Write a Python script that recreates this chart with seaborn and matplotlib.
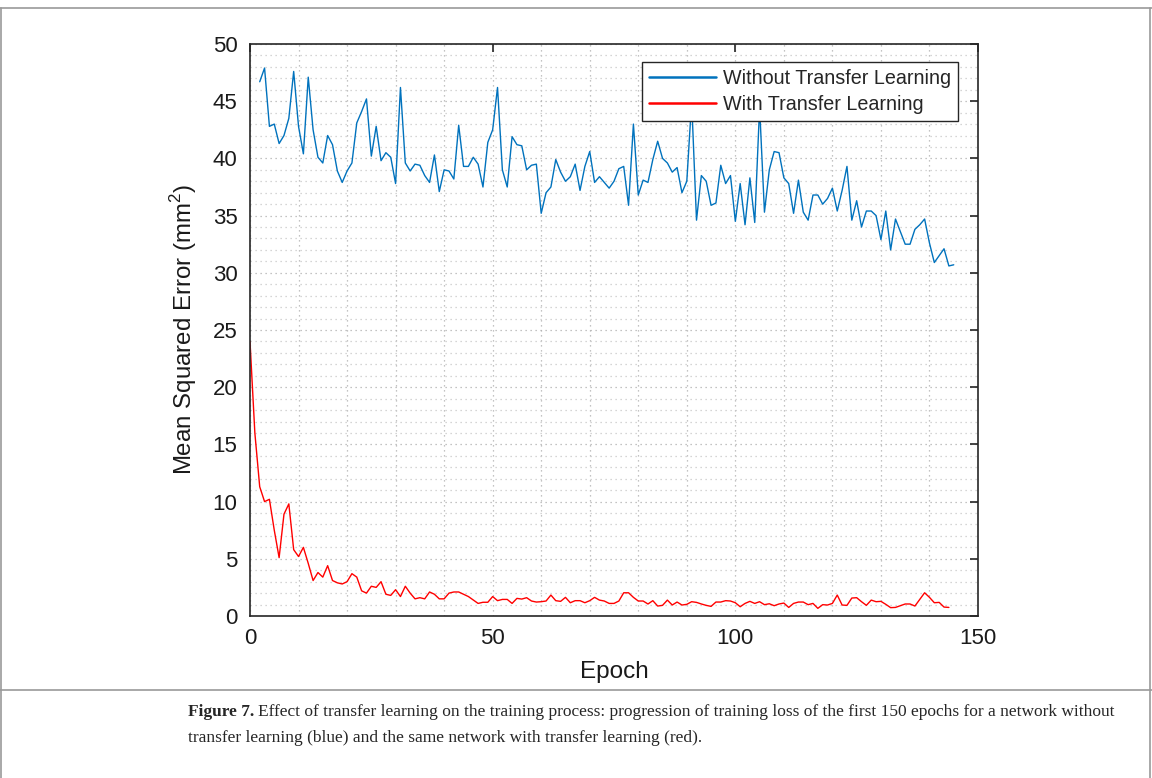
import numpy as np
import pandas as pd
import matplotlib
matplotlib.use("Agg")
import matplotlib.pyplot as plt
from matplotlib.ticker import MultipleLocator
from matplotlib.lines import Line2D
import seaborn as sns

# ---------------- data ----------------
without_tl = [46.7, 47.9, 42.8, 43.0, 41.3, 42.0, 43.5, 47.6, 42.8, 40.4,
              47.1, 42.5, 40.1, 39.6, 42.0, 41.2, 38.9, 37.9, 38.9, 39.6,
              43.1, 44.1, 45.2, 40.2, 42.8, 39.8, 40.5, 40.1, 37.8, 46.2,
              39.6, 38.9, 39.5, 39.4, 38.5, 37.9, 40.3, 37.1, 39.0, 38.9,
              38.2, 42.9, 39.3, 39.3, 40.1, 39.5, 37.5, 41.4, 42.5, 46.2,
              39.0, 37.5, 41.9, 41.2, 41.1, 39.0, 39.4, 39.5, 35.2, 37.0,
              37.5, 39.9, 38.8, 38.0, 38.4, 39.5, 37.2, 39.3, 40.6, 37.9,
              38.4, 37.9, 37.4, 38.0, 39.1, 39.3, 35.9, 43.0, 36.8, 38.1,
              37.9, 39.9, 41.5, 40.0, 39.6, 38.8, 39.2, 37.0, 38.0, 45.0,
              34.6, 38.5, 38.0, 35.9, 36.1, 39.4, 37.8, 38.5, 34.5, 37.8,
              34.2, 38.3, 34.4, 44.5, 35.3, 39.0, 40.6, 40.5, 38.3, 37.8,
              35.2, 38.1, 35.3, 34.6, 36.8, 36.8, 36.0, 36.5, 37.4, 35.4,
              37.2, 39.3, 34.6, 36.3, 34.0, 35.4, 35.4, 35.0, 32.9, 35.4,
              32.0, 34.7, 33.6, 32.5, 32.5, 33.8, 34.2, 34.7, 32.6, 30.9,
              31.5, 32.1, 30.6, 30.7]
with_tl = [24.0, 16.0, 11.3, 10.0, 10.2, 7.5, 5.1, 8.9, 9.8, 5.8,
           5.2, 6.0, 4.6, 3.1, 3.8, 3.4, 4.4, 3.1, 2.9, 2.8,
           3.0, 3.7, 3.4, 2.2, 2.0, 2.6, 2.5, 3.0, 1.9, 1.8,
           2.3, 1.7, 2.6, 2.0, 1.5, 1.6, 1.5, 2.1, 1.9, 1.5,
           1.5, 2.0, 2.1, 2.1, 1.9, 1.7, 1.4, 1.1, 1.2, 1.2,
           1.7, 1.34, 1.45, 1.45, 1.1, 1.54, 1.48, 1.6, 1.31, 1.22,
           1.25, 1.31, 1.83, 1.34, 1.28, 1.63, 1.16, 1.34, 1.34, 1.16,
           1.34, 1.63, 1.39, 1.31, 1.1, 1.1, 1.31, 2.03, 2.03, 1.63,
           1.31, 1.31, 1.05, 1.34, 0.87, 0.93, 1.39, 0.96, 1.22, 0.96,
           1.02, 1.25, 1.19, 1.05, 0.93, 0.84, 1.22, 1.22, 1.34, 1.31,
           1.16, 0.81, 1.1, 1.28, 1.1, 1.25, 0.99, 1.07, 0.9, 1.05,
           1.13, 0.75, 1.1, 1.22, 1.22, 0.99, 1.1, 0.67, 0.99, 0.96,
           1.1, 1.83, 0.96, 0.93, 1.57, 1.6, 1.25, 0.93, 1.39, 1.25,
           1.28, 1.02, 0.73, 0.75, 0.9, 1.05, 1.05, 0.87, 1.45, 2.03,
           1.63, 1.16, 1.19, 0.78, 0.75]
without_start = 2
with_start = 0
epochs_without = np.arange(without_start, without_start + len(without_tl))
epochs_with = np.arange(with_start, with_start + len(with_tl))

series_names = ["Without Transfer Learning", "With Transfer Learning"]
series_colors = ["#0072BD", "#FF0000"]
x_ticks = [0, 50, 100, 150]
y_ticks = [0, 5, 10, 15, 20, 25, 30, 35, 40, 45, 50]

df = pd.concat([
    pd.DataFrame({"Epoch": epochs_without, "MSE": without_tl, "Series": series_names[0]}),
    pd.DataFrame({"Epoch": epochs_with, "MSE": with_tl, "Series": series_names[1]}),
])

# ---------------- style ----------------
sns.set_style("white")
plt.rcParams["font.family"] = ["Liberation Sans", "DejaVu Sans"]
plt.rcParams["mathtext.fontset"] = "custom"
plt.rcParams["mathtext.rm"] = "Liberation Sans"

fig = plt.figure(figsize=(11.52, 7.78), dpi=100)
ax = fig.add_axes([250 / 1152, 1 - 616 / 778, 728 / 1152, 572 / 778])

sns.lineplot(data=df, x="Epoch", y="MSE", hue="Series", hue_order=series_names,
             palette=series_colors, linewidth=1.0, ax=ax, legend=False,
             estimator=None, sort=False)

ax.set_xlim(0, 150)
ax.set_ylim(0, 50)
ax.set_xticks(x_ticks)
ax.set_yticks(y_ticks)
ax.xaxis.set_minor_locator(MultipleLocator(10))
ax.yaxis.set_minor_locator(MultipleLocator(1))
ax.grid(which="minor", axis="x", color="#b0b0b0", linestyle=(0, (1, 3)), linewidth=0.9)
ax.grid(which="minor", axis="y", color="#c8c8c8", linestyle=(0, (1, 3)), linewidth=0.9)
ax.grid(which="major", axis="both", color="#b0b0b0", linestyle=(0, (1, 3)), linewidth=0.9)
ax.set_axisbelow(True)

for s in ax.spines.values():
    s.set_visible(True)
    s.set_color("#262626")
    s.set_linewidth(1.2)

ax.tick_params(which="major", direction="in", length=6, width=1.2, color="#262626",
               top=True, right=True, labelsize=16, pad=9, labelcolor="#1a1a1a")
ax.tick_params(which="minor", length=0)

ax.set_xlabel("Epoch", fontsize=17.5, color="#1a1a1a", labelpad=8)
ax.set_ylabel("Mean Squared Error (mm$^2$)", fontsize=17.3, color="#1a1a1a", labelpad=10)

handles = [Line2D([0], [0], color=c, lw=1.8) for c in series_colors]
leg = ax.legend(handles, series_names, loc="upper right",
                bbox_to_anchor=((958 - 250) / 728, (616 - 62) / 572),
                fontsize=14.2, frameon=True, fancybox=False, framealpha=1,
                edgecolor="#262626", handlelength=3.4, borderpad=0.35,
                labelspacing=0.35, handletextpad=0.35, borderaxespad=0)
leg.get_frame().set_linewidth(1.0)

# ---------------- page frame & caption ----------------
fig.add_artist(Line2D([0, 1], [1 - 8 / 778, 1 - 8 / 778], color="#9a9a9a", lw=1.2,
                      transform=fig.transFigure))
fig.add_artist(Line2D([1 / 1152, 1 / 1152], [0, 1 - 8 / 778], color="#9a9a9a", lw=1.2,
                      transform=fig.transFigure))
fig.add_artist(Line2D([1150 / 1152, 1150 / 1152], [0, 1 - 8 / 778], color="#9a9a9a", lw=1.2,
                      transform=fig.transFigure))
fig.add_artist(Line2D([0, 1], [1 - 690 / 778, 1 - 690 / 778], color="#9a9a9a", lw=1.2,
                      transform=fig.transFigure))

serif = ["Liberation Serif", "DejaVu Serif"]
cap_size = 12.55
t1 = fig.text(188 / 1152, 1 - 712 / 778, "Figure 7.", fontsize=cap_size, fontweight="bold",
              family=serif, va="center", ha="left")
fig.canvas.draw()
bb = t1.get_window_extent()
fig.text(bb.x1 / 1152 + 4 / 1152, 1 - 712 / 778,
         "Effect of transfer learning on the training process: progression of training loss of the first 150 epochs for a network without",
         fontsize=cap_size, family=serif, va="center", ha="left")
fig.text(188 / 1152, 1 - 738 / 778,
         "transfer learning (blue) and the same network with transfer learning (red).",
         fontsize=cap_size, family=serif, va="center", ha="left")

fig.savefig("out.png", dpi=100)
